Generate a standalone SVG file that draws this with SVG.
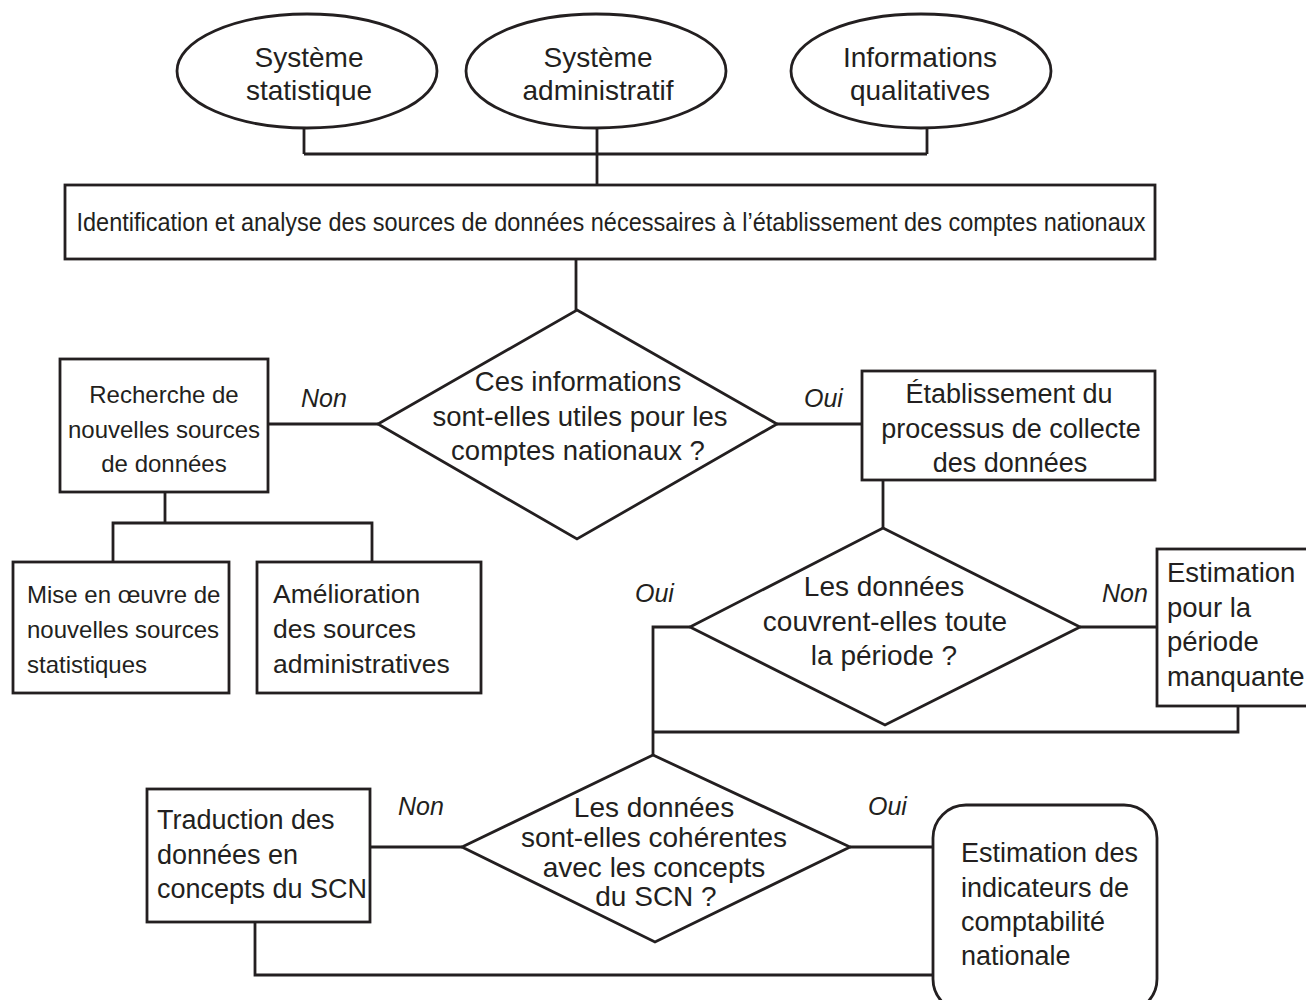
<svg xmlns="http://www.w3.org/2000/svg" width="1306" height="1000" viewBox="0 0 1306 1000">
<style>
.s{fill:#fff;stroke:#231f20;stroke-width:2.8}
.c{fill:none;stroke:#231f20;stroke-width:2.8}
text{font-family:"Liberation Sans",Arial,sans-serif;fill:#231f20}
.m{text-anchor:middle}
.lab{font-style:italic;font-size:25px}
</style>
<rect width="1306" height="1000" fill="#fff"/>
<g id="connectors">
<path class="c" d="M304,127V154M597,127V185M927,127V154M304,154H927"/>
<path class="c" d="M576,259V310"/>
<path class="c" d="M268,424H378"/>
<path class="c" d="M165,492V523M113,562V523H372V562"/>
<path class="c" d="M777,424H862"/>
<path class="c" d="M883,480V528"/>
<path class="c" d="M1080,627H1157"/>
<path class="c" d="M1238,706V732H653"/>
<path class="c" d="M690,627H653V755"/>
<path class="c" d="M370,847H462"/>
<path class="c" d="M850,847H933"/>
<path class="c" d="M255,922V975H933"/>
</g>
<g id="labels">
<text class="lab" x="301" y="407">Non</text>
<text class="lab" x="804" y="407">Oui</text>
<text class="lab" x="635" y="602">Oui</text>
<text class="lab" x="1102" y="602">Non</text>
<text class="lab" x="398" y="815">Non</text>
<text class="lab" x="868" y="815">Oui</text>
</g>
<g id="src-stat">
<ellipse class="s" cx="307" cy="71" rx="130" ry="57"/>
<text class="m" font-size="28" x="309" y="67">Système</text>
<text class="m" font-size="28" x="309" y="100">statistique</text>
</g>
<g id="src-admin">
<ellipse class="s" cx="596" cy="71" rx="130" ry="57"/>
<text class="m" font-size="28" x="598" y="67">Système</text>
<text class="m" font-size="28" x="598" y="100">administratif</text>
</g>
<g id="src-qual">
<ellipse class="s" cx="921" cy="71" rx="130" ry="57"/>
<text class="m" font-size="28" x="920" y="67">Informations</text>
<text class="m" font-size="28" x="920" y="100">qualitatives</text>
</g>
<g id="identification">
<rect class="s" x="65" y="185" width="1090" height="74"/>
<text class="m" font-size="25" x="611" y="231" textLength="1069" lengthAdjust="spacingAndGlyphs">Identification et analyse des sources de données nécessaires à l’établissement des comptes nationaux</text>
</g>
<g id="q-utiles">
<polygon class="s" points="577,310 777,424 577,539 378,424"/>
<text class="m" font-size="27.5" x="578" y="391">Ces informations</text>
<text class="m" font-size="27.5" x="580" y="426">sont-elles utiles pour les</text>
<text class="m" font-size="27.5" x="578" y="460">comptes nationaux ?</text>
</g>
<g id="recherche">
<rect class="s" x="60" y="359" width="208" height="133"/>
<text class="m" font-size="24" x="164" y="403">Recherche de</text>
<text class="m" font-size="24" x="164" y="438">nouvelles sources</text>
<text class="m" font-size="24" x="164" y="472">de données</text>
</g>
<g id="mise-en-oeuvre">
<rect class="s" x="13" y="562" width="216" height="131"/>
<text font-size="24" x="27" y="603">Mise en œuvre de</text>
<text font-size="24" x="27" y="638">nouvelles sources</text>
<text font-size="24" x="27" y="673">statistiques</text>
</g>
<g id="amelioration">
<rect class="s" x="257" y="562" width="224" height="131"/>
<text font-size="26.5" x="273" y="603">Amélioration</text>
<text font-size="26.5" x="273" y="638">des sources</text>
<text font-size="26.5" x="273" y="673">administratives</text>
</g>
<g id="etablissement">
<rect class="s" x="862" y="371" width="293" height="109"/>
<text class="m" font-size="27" x="1009" y="403">Établissement du</text>
<text class="m" font-size="27" x="1011" y="438">processus de collecte</text>
<text class="m" font-size="27" x="1010" y="472">des données</text>
</g>
<g id="q-periode">
<polygon class="s" points="883,528 1080,627 885,725 690,627"/>
<text class="m" font-size="28" x="884" y="596">Les données</text>
<text class="m" font-size="28" x="885" y="631">couvrent-elles toute</text>
<text class="m" font-size="28" x="884" y="665">la période ?</text>
</g>
<g id="estimation-manquante">
<rect class="s" x="1157" y="549" width="170" height="157"/>
<text font-size="27.5" x="1167" y="582">Estimation</text>
<text font-size="27.5" x="1167" y="617">pour la</text>
<text font-size="27.5" x="1167" y="651">période</text>
<text font-size="27.5" x="1167" y="686">manquante</text>
</g>
<g id="q-coherence">
<polygon class="s" points="653,755 850,847 655,942 462,847"/>
<text class="m" font-size="28" x="654" y="817">Les données</text>
<text class="m" font-size="28" x="654" y="847">sont-elles cohérentes</text>
<text class="m" font-size="28" x="654" y="877">avec les concepts</text>
<text class="m" font-size="28" x="656" y="906">du SCN ?</text>
</g>
<g id="traduction">
<rect class="s" x="147" y="789" width="223" height="133"/>
<text font-size="27" x="157" y="829">Traduction des</text>
<text font-size="27" x="157" y="864">données en</text>
<text font-size="27" x="157" y="898">concepts du SCN</text>
</g>
<g id="estimation-indicateurs">
<rect class="s" x="933" y="805" width="224" height="207" rx="33"/>
<text font-size="27" x="961" y="862">Estimation des</text>
<text font-size="27" x="961" y="897">indicateurs de</text>
<text font-size="27" x="961" y="931">comptabilité</text>
<text font-size="27" x="961" y="965">nationale</text>
</g>
</svg>
